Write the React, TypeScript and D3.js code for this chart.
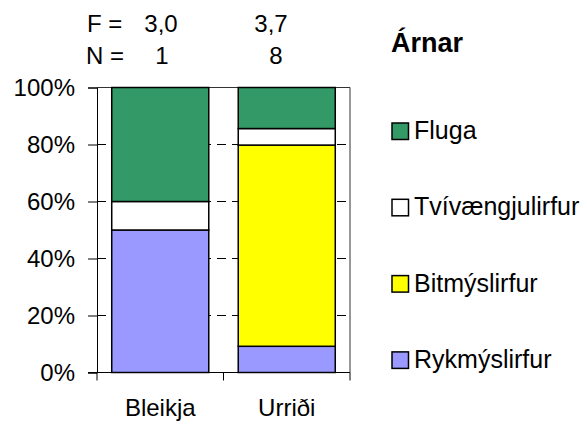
import React, { useEffect, useRef } from "react";
import * as d3 from "d3";

const categories = ["Bleikja", "Urriði"];
const seriesNames = ["Rykmýslirfur", "Bitmýslirfur", "Tvívængjulirfur", "Fluga"];
const seriesColors = ["#9999ff", "#ffff00", "#ffffff", "#339966"];
// percent of each category, bottom to top
const rykmyslirfur = [50, 9.2];
const bitmyslirfur = [0, 70.6];
const tvivaengjulirfur = [10, 5.8];
const fluga = [40, 14.4];
const fValues = ["3,0", "3,7"];
const nValues = ["1", "8"];
const yTicks = [0, 0.2, 0.4, 0.6, 0.8, 1];

const FONT = "'Liberation Sans', Arial, sans-serif";
const FS = 24;

function App() {
    const chartRef = useRef<SVGSVGElement>(null);

    useEffect(() => {
        const svg = d3.select(chartRef.current);
        svg.selectAll("*").remove();

        const left = 97;
        const right = 350;
        const top = 87.5;
        const bottom = 372.5;

        const x = d3.scaleBand().domain(categories).range([left, right]);
        const y = d3.scaleLinear().domain([0, 1]).range([bottom, top]);
        const barW = x.bandwidth() * 0.767;

        // dashed grid
        svg.append("g")
            .selectAll("line")
            .data(yTicks.filter(t => t > 0 && t < 1))
            .enter()
            .append("line")
            .attr("x1", left)
            .attr("x2", right)
            .attr("y1", d => y(d))
            .attr("y2", d => y(d))
            .attr("stroke", "#000")
            .attr("stroke-dasharray", "9,6")
            .attr("stroke-width", 1);

        // plot frame top/right
        svg.append("path")
            .attr("d", `M${left},${top}H${right}V${bottom}`)
            .attr("fill", "none")
            .attr("stroke", "#333")
            .attr("stroke-width", 1);

        const table = categories.map((c, i) => ({
            cat: c,
            Rykmýslirfur: rykmyslirfur[i] / 100,
            Bitmýslirfur: bitmyslirfur[i] / 100,
            Tvívængjulirfur: tvivaengjulirfur[i] / 100,
            Fluga: fluga[i] / 100
        }));
        const stacked = d3.stack<any>().keys(seriesNames)(table);

        stacked.forEach((layer, si) => {
            svg.append("g")
                .selectAll("rect")
                .data(layer.filter(d => d[1] - d[0] > 0))
                .enter()
                .append("rect")
                .attr("x", d => (x(d.data.cat) as number) + (x.bandwidth() - barW) / 2)
                .attr("y", d => y(d[1]))
                .attr("width", barW)
                .attr("height", d => y(d[0]) - y(d[1]))
                .attr("fill", seriesColors[si])
                .attr("stroke", "#000")
                .attr("stroke-width", 1.5);
        });

        // y axis
        const yAxis = svg.append("g")
            .attr("transform", `translate(${left},0)`)
            .call(d3.axisLeft(y).tickValues(yTicks).tickFormat(d3.format(".0%")).tickSize(9).tickPadding(13));
        yAxis.select(".domain").attr("stroke", "#000");
        yAxis.selectAll("text")
            .attr("font-family", FONT)
            .attr("font-size", FS)
            .attr("fill", "#000");

        // x axis
        const xAxis = svg.append("g")
            .attr("transform", `translate(0,${bottom})`)
            .call(d3.axisBottom(x).tickSize(0).tickPadding(26));
        xAxis.select(".domain").attr("d", `M${left - 9},0H${right}`).attr("stroke", "#000");
        xAxis.selectAll("text")
            .attr("font-family", FONT)
            .attr("font-size", FS)
            .attr("fill", "#000");
        xAxis.selectAll(".sep")
            .data([left, left + x.step(), right])
            .enter()
            .append("line")
            .attr("x1", d => d)
            .attr("x2", d => d)
            .attr("y1", 0)
            .attr("y2", 8)
            .attr("stroke", "#000");

        // F and N rows
        const header = svg.append("g")
            .attr("font-family", FONT)
            .attr("font-size", FS)
            .attr("fill", "#000");
        header.append("text").attr("x", 87).attr("y", 32).text("F =");
        header.append("text").attr("x", 86).attr("y", 64).text("N =");
        const labelX = [161, 271];
        header.selectAll(".f")
            .data(fValues)
            .enter()
            .append("text")
            .attr("x", (d, i) => labelX[i])
            .attr("y", 32)
            .attr("text-anchor", "middle")
            .text(d => d);
        header.selectAll(".n")
            .data(nValues)
            .enter()
            .append("text")
            .attr("x", (d, i) => labelX[i] + (i === 0 ? 1 : 5))
            .attr("y", 64)
            .attr("text-anchor", "middle")
            .text(d => d);

        // legend
        const legend = svg.append("g").attr("font-family", FONT);
        legend.append("text")
            .attr("x", 391)
            .attr("y", 52)
            .attr("font-size", 27)
            .attr("font-weight", "bold")
            .text("Árnar");
        const legendOrder = [3, 2, 1, 0];
        const item = legend.selectAll(".item")
            .data(legendOrder)
            .enter()
            .append("g")
            .attr("transform", (d, i) => `translate(392,${139 + i * 76.3})`);
        item.append("rect")
            .attr("x", 0)
            .attr("y", -16)
            .attr("width", 16.5)
            .attr("height", 16.5)
            .attr("fill", d => seriesColors[d])
            .attr("stroke", "#000")
            .attr("stroke-width", 1.5);
        item.append("text")
            .attr("x", 22)
            .attr("y", 0)
            .attr("font-size", 25)
            .text(d => seriesNames[d]);
    }, []);

    return (
        <svg
            ref={chartRef}
            width={587}
            height={426}
            style={{ position: "absolute", left: 0, top: 0, background: "#fff" }}
        />
    );
}

export default App;
